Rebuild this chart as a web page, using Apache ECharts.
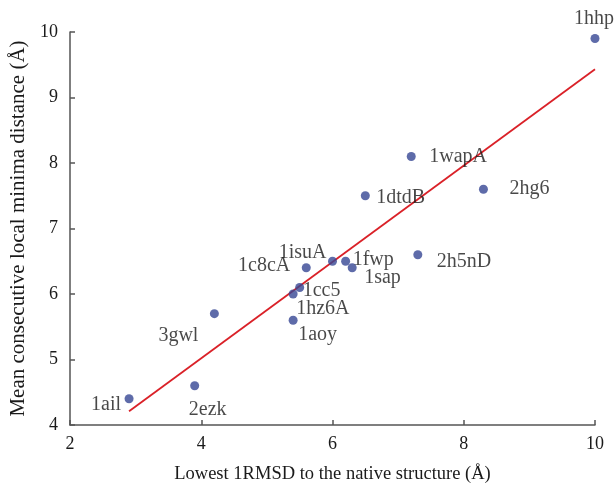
<!DOCTYPE html>
<html>
<head>
<meta charset="utf-8">
<script src="https://cdn.jsdelivr.net/npm/echarts@6/dist/echarts.min.js"></script>
<style>html,body{margin:0;padding:0;background:#fff;}#c{width:616px;height:489px;}</style>
</head>
<body>
<div id="c"></div>
<script>
// Data
var names = ['1hhp','1wapA','1dtdB','2hg6','2h5nD','1fwp','1isuA','1sap','1c8cA','1cc5','1hz6A','1aoy','3gwl','2ezk','1ail'];
var xValues = [10.0, 7.2, 6.5, 8.3, 7.3, 6.2, 6.0, 6.3, 5.6, 5.5, 5.4, 5.4, 4.2, 3.9, 2.9];
var yValues = [9.9, 8.1, 7.5, 7.6, 6.6, 6.5, 6.5, 6.4, 6.4, 6.1, 6.0, 5.6, 5.7, 4.6, 4.4];
var fitX = [2.9, 10.0];
var fitY = [4.21, 9.43];
var xTicks = [2, 4, 6, 8, 10];
var yTicks = [4, 5, 6, 7, 8, 9, 10];

// Label layout (styling only)
var labelLayout = {
  '1hhp':  {align:'center', offset:[-1,-20]},
  '1wapA': {align:'left',   offset:[18,0]},
  '1dtdB': {align:'left',   offset:[11,2]},
  '2hg6':  {align:'left',   offset:[26,0]},
  '2h5nD': {align:'left',   offset:[19,7]},
  '1fwp':  {align:'left',   offset:[7,-2]},
  '1isuA': {align:'right',  offset:[-6,-9]},
  '1sap':  {align:'left',   offset:[12,10]},
  '1c8cA': {align:'right',  offset:[-16,-2]},
  '1cc5':  {align:'left',   offset:[3,3]},
  '1hz6A': {align:'left',   offset:[3,15]},
  '1aoy':  {align:'left',   offset:[5,15]},
  '3gwl':  {align:'right',  offset:[-16,22]},
  '2ezk':  {align:'center', offset:[13,24]},
  '1ail':  {align:'right',  offset:[-8,6]}
};

var FONT = '"Liberation Serif", "DejaVu Serif", serif';
var TXT = '#1a1a1a';

var pts = names.map(function(n, i){
  var l = labelLayout[n];
  return {
    name: n,
    value: [xValues[i], yValues[i]],
    label: {show:true, formatter:n, position:'inside', align:l.align, verticalAlign:'middle', offset:l.offset}
  };
});

var chart = echarts.init(document.getElementById('c'), null, {renderer:'canvas'});
chart.setOption({
  animation:false,
  backgroundColor:'#fff',
  grid:{left:70, right:21, top:32, bottom:62, containLabel:false},
  xAxis:{
    type:'value', min:xTicks[0], max:xTicks[xTicks.length-1], interval:2,
    name:'Lowest 1RMSD to the native structure (Å)', nameLocation:'middle', nameGap:40,
    nameTextStyle:{fontFamily:FONT, fontSize:18.5, color:TXT},
    axisLine:{show:true, lineStyle:{color:'#555', width:1.5}},
    axisTick:{show:true, inside:true, length:5, lineStyle:{color:'#555', width:1.5}},
    axisLabel:{fontFamily:FONT, fontSize:18, color:TXT, margin:10},
    splitLine:{show:false}
  },
  yAxis:{
    type:'value', min:yTicks[0], max:yTicks[yTicks.length-1], interval:1,
    name:'Mean consecutive local minima distance (Å)', nameLocation:'middle', nameGap:38, nameRotate:90,
    nameTextStyle:{fontFamily:FONT, fontSize:21, color:TXT},
    axisLine:{show:true, lineStyle:{color:'#555', width:1.5}},
    axisTick:{show:true, inside:true, length:5, lineStyle:{color:'#555', width:1.5}},
    axisLabel:{fontFamily:FONT, fontSize:18, color:TXT, margin:12},
    splitLine:{show:false}
  },
  series:[
    {
      type:'line', data:fitX.map(function(x,i){return [x, fitY[i]];}),
      symbol:'none', lineStyle:{color:'#da2128', width:1.8}, z:1, silent:true
    },
    {
      type:'scatter', data:pts, symbolSize:9,
      itemStyle:{color:'#364694'},
      label:{fontFamily:FONT, fontSize:20, color:TXT},
      z:2
    }
  ]
});
</script>
</body>
</html>
